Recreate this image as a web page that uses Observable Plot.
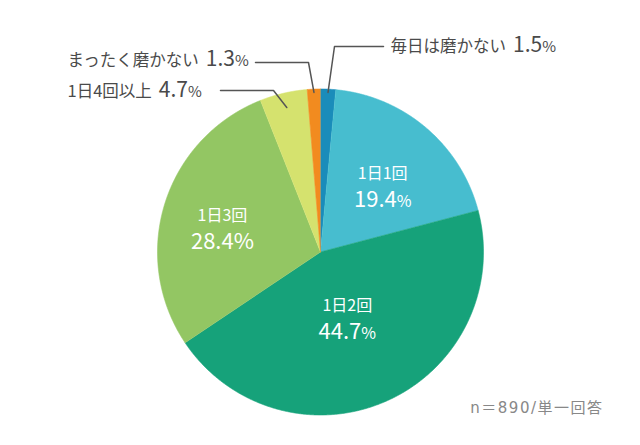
<!DOCTYPE html>
<html><head><meta charset="utf-8">
<script src="https://cdn.jsdelivr.net/npm/d3@7"></script>
<script src="https://cdn.jsdelivr.net/npm/@observablehq/plot@0.6"></script>
<style>body{margin:0;background:#fff} svg{display:block}</style>
</head><body><div id="chart"></div>
<script>
// ---- data ----
const categories = ["毎日は磨かない", "1日1回", "1日2回", "1日3回", "1日4回以上", "まったく磨かない"];
const values = [1.5, 19.4, 44.7, 28.4, 4.7, 1.3];
const colors = ["#1a8cba", "#47bdcf", "#16a27a", "#93c663", "#d5e26e", "#f28b1f"];
const caption = "n＝890/単一回答";

// ---- layout ----
const W = 640, H = 445;
const pie = {cx: 320, cy: 251.5, r: 163};
const insideLayout = {
  "1日1回": {rf: 0.59, smallPct: true},
  "1日2回": {rf: 0.40, smallPct: true},
  "1日3回": {rf: 0.63, smallPct: false}
};
const outsideLayout = {
  "毎日は磨かない": {rf: 0.98, elbow: [334, 46], end: 383, tx: 390, ty: 51},
  "1日4回以上": {rf: 0.91, elbow: [273, 90], end: 220, tx: 67, ty: 96},
  "まったく磨かない": {rf: 0.98, elbow: [308, 62], end: 255, tx: 67, ty: 65}
};
const font = "'Noto Sans CJK JP', 'Noto Sans', sans-serif";

const rows = categories.map((name, i) => ({name, value: values[i], color: colors[i]}));
const arcs = d3.pie().sort(null).value(d => d.value)(rows);
const polar = (a, rr) => [pie.cx + rr * Math.sin(a), pie.cy - rr * Math.cos(a)];

// slice polygons
const slicePts = [];
arcs.forEach(a => {
  const n = Math.max(2, Math.ceil((a.endAngle - a.startAngle) / (Math.PI / 720)));
  slicePts.push({name: a.data.name, color: a.data.color, x: pie.cx, y: pie.cy});
  for (let k = 0; k <= n; k++) {
    const t = a.startAngle + (a.endAngle - a.startAngle) * k / n;
    const [x, y] = polar(t, pie.r);
    slicePts.push({name: a.data.name, color: a.data.color, x, y});
  }
});

const mid = a => (a.startAngle + a.endAngle) / 2;
const insideRows = arcs.filter(a => insideLayout[a.data.name]).map(a => {
  const L = insideLayout[a.data.name];
  const [x, y] = polar(mid(a), pie.r * L.rf);
  return {name: a.data.name, value: a.data.value, x, y, smallPct: L.smallPct};
});
const outsideRows = arcs.filter(a => outsideLayout[a.data.name]).map(a => {
  const L = outsideLayout[a.data.name];
  return {name: a.data.name, value: a.data.value, x: L.tx, y: L.ty, arc: a, L};
});
const leaderPts = [];
outsideRows.forEach(o => {
  const [x0, y0] = polar(mid(o.arc), pie.r * o.L.rf);
  leaderPts.push({name: o.name, x: x0, y: y0});
  leaderPts.push({name: o.name, x: o.L.elbow[0], y: o.L.elbow[1]});
  leaderPts.push({name: o.name, x: o.L.end, y: o.L.elbow[1]});
});

const chart = Plot.plot({
  width: W, height: H, margin: 0,
  x: {domain: [0, W], range: [0, W], axis: null},
  y: {domain: [0, H], range: [0, H], axis: null},
  style: {fontFamily: font, background: "#fff"},
  marks: [
    Plot.line(slicePts, {x: "x", y: "y", z: "name", fill: "color", stroke: "color", strokeWidth: 0.6, curve: "linear"}),
    Plot.line(leaderPts, {x: "x", y: "y", z: "name", stroke: "#555", strokeWidth: 1.5}),
    Plot.text(insideRows, {x: "x", y: "y", text: "name", fill: "#fff", fontSize: 16, textAnchor: "middle", lineAnchor: "bottom"}),
    Plot.text(insideRows, {x: "x", y: "y", dy: 28, text: d => `${d.value.toFixed(1)}%`, fill: "#fff", fontSize: 22, textAnchor: "middle", lineAnchor: "bottom"}),
    Plot.text(outsideRows, {x: "x", y: "y", text: d => `${d.name} ${d.value.toFixed(1)}%`, fill: "#4a4a4a", fontSize: 16.5, textAnchor: "start", lineAnchor: "bottom"}),
    Plot.text([caption], {frameAnchor: "bottom-right", dx: -37, dy: -33, text: d => d, fill: "#888", fontSize: 15, fontFamily: "'DejaVu Sans', 'Noto Sans CJK JP', sans-serif", textAnchor: "end", lineAnchor: "bottom"})
  ]
});

// rich text: different sizes for numbers and % signs
const smallPctByValue = new Map(insideRows.map(r => [`${r.value.toFixed(1)}%`, r.smallPct]));
d3.select(chart).selectAll("text").each(function() {
  const t = this.textContent;
  let m;
  if (t === caption) {
    d3.select(this).attr("letter-spacing", 1.5);
  } else if ((m = t.match(/^([\d.]+)(%)$/))) {
    const small = smallPctByValue.get(t);
    const el = d3.select(this).text("");
    el.append("tspan").text(m[1]);
    el.append("tspan").attr("font-size", small ? 16 : 22).text(m[2]);
  } else if ((m = t.match(/^(.*?)\s+([\d.]+)(%)$/))) {
    const el = d3.select(this).text("");
    el.append("tspan").text(m[1]);
    el.append("tspan").attr("dx", 7).attr("font-size", 21).text(m[2]);
    el.append("tspan").attr("font-size", 15).text(m[3]);
  }
});

document.getElementById("chart").append(chart);
</script>
</body></html>
